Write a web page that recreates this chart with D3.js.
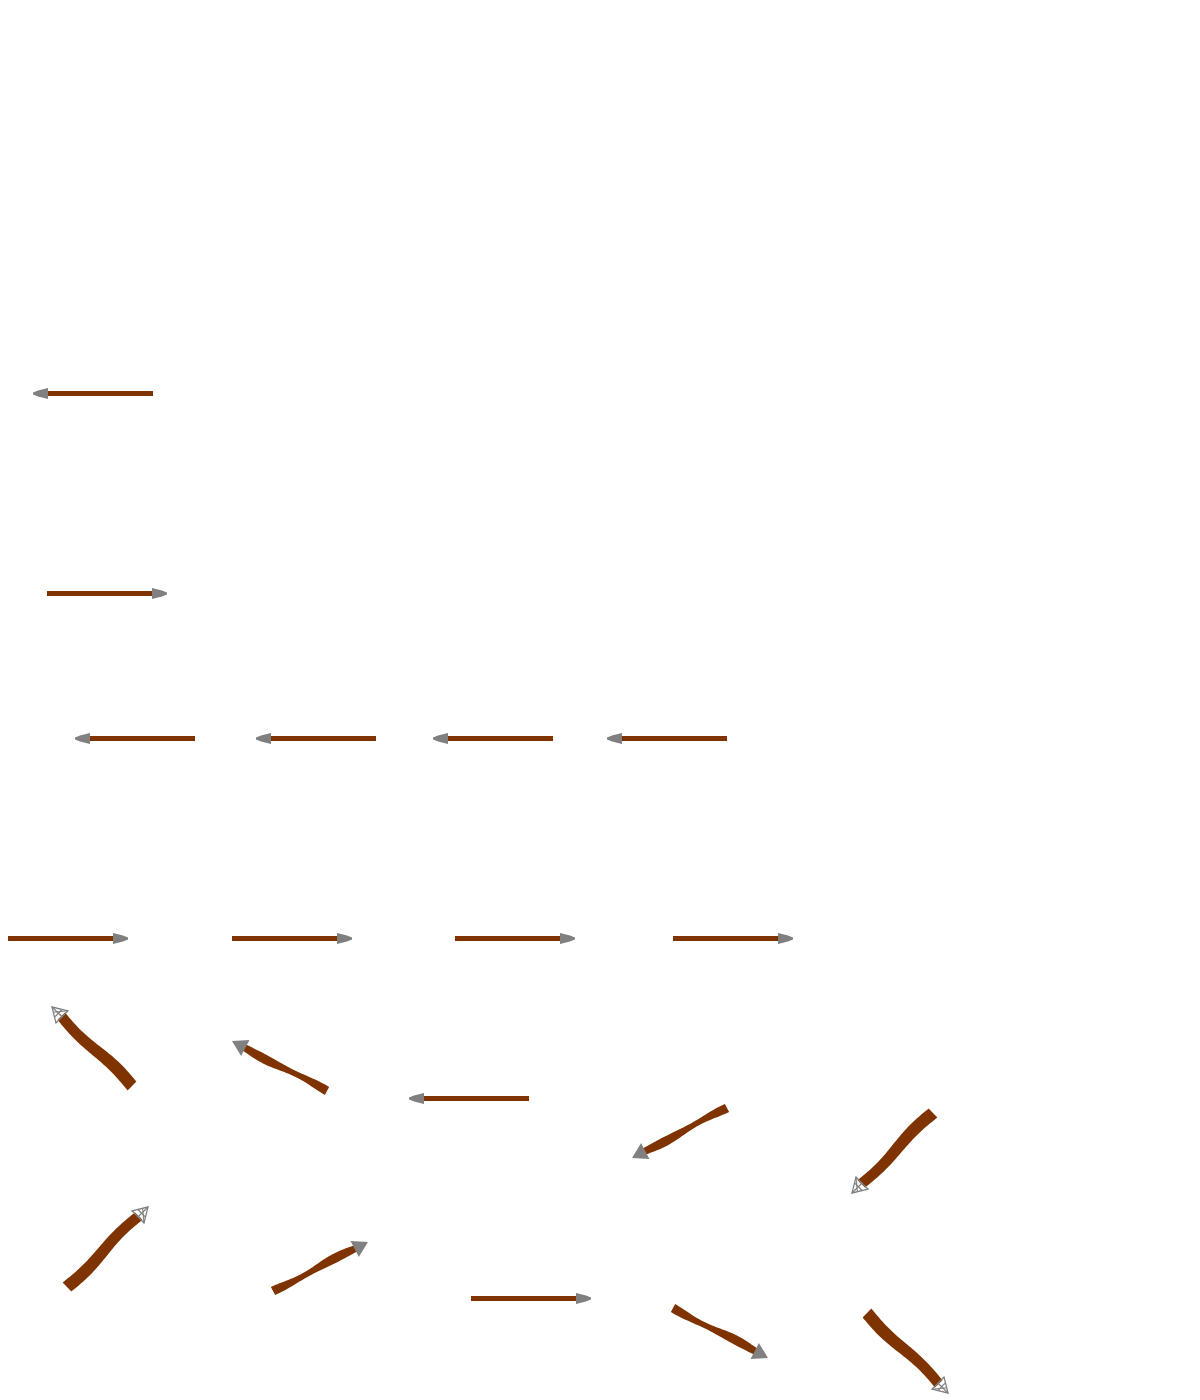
<!DOCTYPE html>
<html>
<head>
<meta charset="utf-8">
<script src="https://cdn.jsdelivr.net/npm/d3@7"></script>
<style>
  html, body { margin: 0; padding: 0; background: #ffffff; }
  svg { display: block; }
</style>
</head>
<body>
<div id="chart"></div>
<script>
// Arrow tails (x, y) and vector components (u, v), in pixel-like data units
const tailX = [153, 47, 195, 376, 553, 727, 8, 232, 455, 673, 132, 327, 529, 727, 933, 67, 273, 471, 673, 867];
const tailY = [393.5, 593.5, 738.5, 738.5, 738.5, 738.5, 938.5, 938.5, 938.5, 938.5, 1086, 1091, 1098.5, 1108, 1113, 1287, 1291, 1298.5, 1308, 1313];
const vecU  = [-120, 120, -120, -120, -120, -120, 120, 120, 120, 120, -80, -95, -120, -95, -81, 81, 95, 120, 95, 81];
const vecV  = [0, 0, 0, 0, 0, 0, 0, 0, 0, 0, -79, -50, 0, 50, 80, -80, -49, 0, 50, 80];

const W = 1200, H = 1400;
const x = d3.scaleLinear().domain([0, 1200]).range([0, W]);
const y = d3.scaleLinear().domain([0, 1400]).range([0, H]);

const svg = d3.select("#chart").append("svg").attr("width", W).attr("height", H);

const arrows = tailX.map((tx, i) => ({ tx, ty: tailY[i], u: vecU[i], v: vecV[i] }));

const shaftColor = "#7f3300";
const headColor = "#808080";
const line = d3.line().curve(d3.curveLinearClosed);

arrows.forEach(a => {
  const x0 = x(a.tx), y0 = y(a.ty);
  const x1 = x(a.tx + a.u), y1 = y(a.ty + a.v);
  const dx = x1 - x0, dy = y1 - y0;
  const L = Math.hypot(dx, dy);
  const ux = dx / L, uy = dy / L;
  const nx = -uy, ny = ux;
  const horizontal = Math.abs(a.v) < 1e-6;
  const steep = !horizontal && Math.abs(Math.abs(a.u) - Math.abs(a.v)) < 10;
  const g = svg.append("g");

  if (horizontal) {
    const shaftLen = L - 15;
    const pts = [
      [x0, y0 - 2.5], [x0 + ux * shaftLen, y0 - 2.5],
      [x0 + ux * shaftLen, y0 + 2.5], [x0, y0 + 2.5]
    ];
    g.append("path").attr("d", line(pts)).attr("fill", shaftColor);
    const bx = x0 + ux * shaftLen;
    const head = [
      [bx, y0 - 5.5], [bx + ux * 10, y0 - 3], [bx + ux * 15, y0 - 1],
      [bx + ux * 15, y0 + 1], [bx + ux * 10, y0 + 3], [bx, y0 + 5.5]
    ];
    g.append("path").attr("d", line(head)).attr("fill", headColor);
    return;
  }

  const headLen = steep ? 13 : 14;
  const shaftLen = L - headLen;
  // Slightly wavy tapered shaft (style only)
  const left = [], right = [];
  const n = 40;
  for (let k = 0; k <= n; k++) {
    const t = k / n;
    const s = t * shaftLen;
    let off, w;
    if (steep) {
      off = 1.6 * Math.sin(2 * Math.PI * t);
      w = 11.5 + 1.0 * Math.cos(Math.PI * t);
    } else {
      off = 0.8 * Math.sin(2 * Math.PI * t);
      w = 7.4 + 1.8 * Math.cos(2.6 * Math.PI * t);
    }
    const cx = x0 + ux * s + nx * off;
    const cy = y0 + uy * s + ny * off;
    left.push([cx + nx * w / 2, cy + ny * w / 2]);
    right.push([cx - nx * w / 2, cy - ny * w / 2]);
  }
  g.append("path").attr("d", line(left.concat(right.reverse()))).attr("fill", shaftColor);

  const bx = x0 + ux * (shaftLen - 1), by = y0 + uy * (shaftLen - 1);
  const tipx = x0 + ux * L, tipy = y0 + uy * L;
  const hw = steep ? 8.5 : 9;
  const head = [[bx + nx * hw, by + ny * hw], [tipx, tipy], [bx - nx * hw, by - ny * hw]];
  if (steep) {
    g.append("path").attr("d", line(head))
      .attr("fill", "none").attr("stroke", headColor).attr("stroke-width", 1.3);
    g.append("line").attr("x1", bx).attr("y1", by).attr("x2", tipx).attr("y2", tipy)
      .attr("stroke", headColor).attr("stroke-width", 1.3);
    g.append("line")
      .attr("x1", bx + nx * hw * 0.55 + ux * 5).attr("y1", by + ny * hw * 0.55 + uy * 5)
      .attr("x2", bx - nx * hw * 0.55 + ux * 5).attr("y2", by - ny * hw * 0.55 + uy * 5)
      .attr("stroke", headColor).attr("stroke-width", 1.3);
    g.append("line")
      .attr("x1", bx + nx * hw).attr("y1", by + ny * hw)
      .attr("x2", bx - nx * hw * 0.3 + ux * 9).attr("y2", by - ny * hw * 0.3 + uy * 9)
      .attr("stroke", headColor).attr("stroke-width", 1.1);
  } else {
    g.append("path").attr("d", line(head)).attr("fill", headColor);
  }
});
</script>
</body>
</html>
